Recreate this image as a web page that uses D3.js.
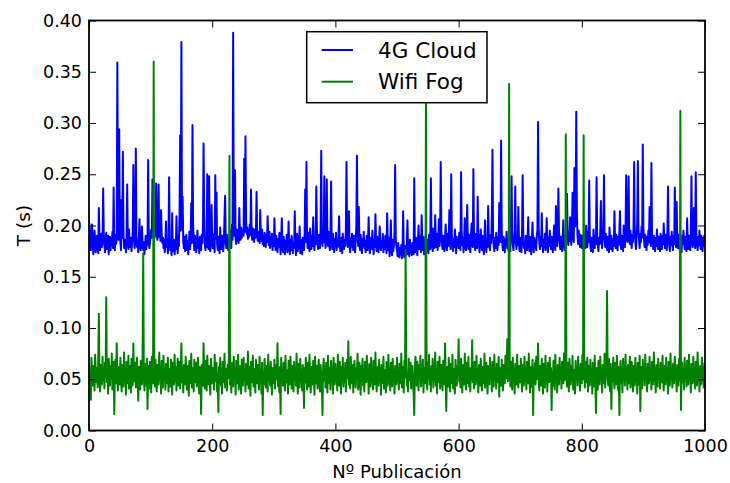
<!DOCTYPE html>
<html>
<head>
<meta charset="utf-8">
<script src="https://cdn.jsdelivr.net/npm/d3@7/dist/d3.min.js"></script>
<style>
  html, body { margin: 0; padding: 0; background: #ffffff; }
  svg { display: block; }
  text { font-family: "DejaVu Sans", sans-serif; fill: #000; }
</style>
</head>
<body>
<svg id="chart" width="730" height="483"></svg>
<script>
// Tiempo por publicación, en milisegundos (una entrada por publicación, 0..999)
const tiempo4GCloud = [
  205,198,184,176,191,201,183,172,179,195,186,174,181,190,178,173,217,188,176,183,192,179,185,236,190,
  181,174,188,193,177,185,190,172,183,189,176,187,181,194,178,237,183,176,191,182,187,359,214,186,294,
  198,183,176,225,188,272,192,178,186,181,174,190,240,185,177,196,183,179,188,175,184,193,259,186,178,
  183,275,190,179,185,174,188,206,180,176,187,199,181,176,184,172,179,190,177,185,181,264,194,178,184,
  190,196,188,245,193,199,187,195,190,241,192,186,197,240,189,194,185,215,191,183,188,178,186,174,181,
  204,179,186,173,182,247,188,176,183,171,212,180,175,186,172,181,177,209,184,173,190,180,212,288,195,
  379,196,228,184,178,189,175,183,191,176,185,172,180,194,177,186,222,183,298,201,185,176,190,181,174,
  182,195,178,186,173,189,180,176,191,183,200,280,210,182,176,188,179,250,186,177,248,184,175,190,220,
  185,178,192,181,174,249,187,232,182,176,189,180,173,198,184,177,190,181,175,186,209,229,183,178,191,
  182,176,188,180,195,184,178,201,186,388,210,190,254,188,182,196,185,191,183,217,192,186,198,188,194,
  196,190,265,194,287,205,192,198,187,195,189,201,191,235,193,186,197,189,184,196,188,192,233,190,185,
  194,187,183,215,190,185,196,182,189,180,193,186,179,191,184,209,187,181,194,178,188,183,192,176,186,
  180,207,184,176,190,181,174,187,179,193,183,172,186,207,178,174,189,180,172,185,177,191,174,182,204,
  179,172,186,176,190,181,173,184,178,214,183,171,180,192,175,184,178,199,173,186,179,172,188,181,176,
  190,235,184,262,188,178,193,181,175,197,184,177,190,180,208,183,176,188,182,238,195,181,177,191,183,
  178,196,273,187,180,192,184,248,190,178,186,245,188,180,194,183,176,189,243,184,177,192,181,174,187,
  180,193,176,185,179,190,209,182,175,188,181,173,192,184,177,186,180,195,262,189,179,185,214,180,174,
  187,179,192,183,176,190,181,174,186,200,268,188,180,218,183,176,191,182,173,187,180,194,178,185,174,
  183,190,176,185,208,180,173,188,181,177,195,184,172,186,179,211,182,175,189,180,174,187,199,181,176,
  185,179,192,174,183,177,190,181,173,212,184,176,188,170,182,205,178,171,186,175,181,194,259,188,180,
  176,170,183,174,169,178,172,181,168,176,214,173,169,180,175,171,184,205,172,178,170,186,174,179,171,
  183,176,172,246,180,174,188,178,171,185,200,177,190,181,174,210,182,176,189,172,184,178,193,175,186,
  180,173,191,184,177,246,190,181,175,197,184,178,210,186,179,192,176,185,206,180,189,262,195,182,177,
  190,181,175,188,201,183,176,192,180,186,215,182,177,250,191,183,175,187,179,196,184,173,189,180,185,
  178,193,182,176,252,194,181,188,174,185,207,180,176,190,220,183,177,191,181,174,188,202,183,179,255,
  190,181,176,192,184,178,228,189,182,174,187,196,181,176,190,183,172,188,205,180,174,186,179,219,187,
  180,176,191,183,210,274,190,181,175,188,178,193,183,176,189,181,222,190,184,283,196,182,176,189,180,
  174,187,181,194,178,185,176,190,182,175,199,248,190,181,176,186,195,238,184,177,190,181,218,183,175,
  188,180,174,192,249,188,178,184,173,190,181,176,187,208,182,175,189,179,172,186,203,181,174,188,179,
  185,176,190,196,301,198,184,177,189,180,212,183,174,186,179,192,176,185,207,181,174,188,180,195,183,
  177,189,181,174,186,200,182,176,219,187,180,191,236,194,183,177,189,181,175,187,205,183,176,190,181,
  187,231,190,181,194,185,208,188,181,196,232,190,184,256,199,203,311,215,190,182,195,186,179,191,184,
  178,190,183,176,192,185,178,200,186,179,194,184,244,190,180,175,188,181,174,196,185,178,190,182,247,
  189,180,175,188,182,194,224,185,178,190,196,249,186,179,192,183,176,189,181,174,198,184,177,190,182,
  175,187,180,214,185,178,191,183,176,189,181,195,214,184,177,190,182,175,200,186,179,192,249,196,184,
  190,248,188,182,195,186,178,191,184,198,262,192,183,177,190,203,263,194,185,178,192,184,199,188,279,
  198,186,179,191,183,176,189,181,195,184,218,188,180,261,192,184,177,190,182,175,188,180,196,184,177,
  189,181,175,192,184,177,190,182,202,185,178,191,183,176,194,238,188,180,175,189,181,194,183,176,190,
  182,237,188,179,223,185,178,191,183,176,188,180,174,190,182,195,184,177,189,181,175,207,183,177,190,
  182,176,189,248,186,179,192,217,184,178,252,190,182,176,189,181,195,184,177,190,182,175,188,180,191
];

const tiempoWifiFog = [
  66,48,57,30,71,52,44,63,58,39,74,55,47,61,42,68,114,50,38,64,56,45,72,49,59,
  41,66,53,130,47,60,36,70,55,44,63,51,75,40,58,67,16,54,69,46,85,52,39,62,57,
  45,71,50,38,64,56,43,76,49,60,35,67,54,46,73,41,58,63,37,70,52,44,85,48,59,
  66,42,55,71,47,29,62,57,40,68,51,45,74,173,53,39,65,58,44,70,21,56,63,41,67,
  50,37,72,55,46,360,58,43,69,52,38,64,57,45,76,49,61,36,68,54,42,73,50,59,40,
  65,53,46,71,38,60,55,43,69,50,35,66,58,45,74,48,62,39,57,70,44,52,67,41,59,
  85,47,60,37,64,53,45,72,50,40,63,56,34,68,51,46,75,42,58,61,38,69,54,47,66,
  43,59,71,48,36,62,55,16,64,50,44,85,57,41,68,52,39,73,56,45,63,49,35,70,58,
  46,61,53,40,74,48,57,66,38,55,18,62,50,71,44,59,36,67,53,47,75,42,60,56,39,
  64,51,70,268,45,58,37,66,54,43,72,49,61,35,68,52,46,74,40,57,63,48,36,69,55,
  44,71,50,60,38,65,53,45,77,41,58,62,34,67,51,47,73,43,56,60,37,69,52,46,64,
  55,40,72,48,59,36,66,15,57,45,70,51,42,63,54,38,74,49,60,44,67,53,35,61,56,
  46,69,41,58,64,50,85,43,55,37,62,16,71,48,57,44,66,52,39,73,47,59,54,36,68,
  50,45,72,57,41,63,53,38,67,49,60,44,75,52,36,65,56,42,70,48,58,39,64,54,22,
  61,47,71,53,40,66,56,43,74,49,37,62,58,45,68,51,35,72,55,46,63,41,59,69,48,
  38,64,53,44,15,60,70,49,57,42,66,52,37,73,55,46,61,40,68,50,59,36,71,54,45,
  65,48,58,39,74,52,44,67,56,36,62,50,71,43,59,47,66,38,55,69,51,87,45,60,41,
  72,53,46,64,37,58,68,49,42,61,55,75,40,57,66,48,35,63,52,70,44,59,38,67,54,
  47,73,50,60,36,65,55,43,71,48,58,40,68,53,45,76,51,38,62,57,44,69,49,61,35,
  64,52,46,72,41,59,55,37,67,50,44,74,47,60,39,66,54,43,70,51,58,36,63,56,45,
  71,48,59,40,65,53,46,75,42,57,62,37,68,52,176,61,44,55,38,70,49,58,66,41,54,
  63,47,36,15,60,72,50,44,67,55,39,64,52,73,43,58,48,69,37,61,54,46,325,56,40,
  66,51,74,45,59,38,63,55,70,42,57,49,76,44,61,36,67,53,47,72,41,58,64,50,39,
  68,54,45,85,48,19,62,56,43,71,52,38,65,58,46,74,41,60,53,36,69,50,44,63,57,
  89,48,59,42,70,53,37,64,57,45,75,50,40,66,55,46,72,43,61,38,58,52,88,47,56,
  41,67,53,45,73,49,60,37,64,55,44,70,51,39,62,57,46,75,42,59,66,48,36,63,54,
  45,71,52,60,38,67,55,43,74,49,58,41,65,53,47,72,33,61,56,44,69,50,39,64,57,
  46,73,51,60,89,48,57,338,62,43,67,54,40,71,49,59,36,65,55,45,74,50,42,63,56,
  47,70,52,38,64,58,44,72,49,61,40,67,54,46,75,51,37,62,57,43,69,15,59,53,66,
  45,72,50,58,85,48,39,63,55,44,70,52,36,65,57,42,73,49,60,38,66,54,47,71,51,
  61,20,57,44,68,52,40,74,48,59,37,64,55,45,71,50,62,41,67,53,46,75,49,58,289,
  55,43,66,51,38,70,56,45,63,49,73,40,59,54,36,68,52,61,44,72,48,57,39,65,53,
  46,74,50,288,60,42,67,55,47,71,38,63,54,44,69,51,59,36,66,56,43,73,48,17,61,
  52,40,68,57,45,72,49,60,37,64,54,46,75,42,58,62,136,50,44,70,55,38,65,21,59,
  48,71,53,41,66,57,45,73,50,39,62,15,58,68,47,55,37,70,52,61,44,74,49,57,40,
  64,53,46,72,42,59,67,50,38,63,56,44,71,48,60,36,66,54,45,73,19,58,62,41,69,
  51,57,44,74,48,60,38,65,55,46,72,50,59,40,67,53,45,76,49,61,37,64,56,43,70,
  52,58,41,66,55,47,73,50,39,63,57,45,71,48,60,36,67,54,44,75,51,59,42,65,56,
  46,72,53,60,38,64,55,44,70,49,312,20,58,66,47,54,40,71,52,61,43,68,56,45,74,
  50,59,37,65,54,46,72,48,61,41,67,55,44,76,51,58,38,63,56,45,71,49,60,42,66
];

const seriesNames = ["4G Cloud", "Wifi Fog"];
const seriesColors = ["#0000ff", "#008000"];
const xTicks = [0, 200, 400, 600, 800, 1000];
const yTicks = [0, 0.05, 0.10, 0.15, 0.20, 0.25, 0.30, 0.35, 0.40];
const xLabel = "Nº Publicación";
const yLabel = "T (s)";

// Plot area
const plotLeft = 89, plotRight = 705, plotTop = 20.5, plotBottom = 430.5;
const tickLen = 7;

const svg = d3.select("#chart");

const x = d3.scaleLinear().domain([0, 1000]).range([plotLeft, plotRight]);
const y = d3.scaleLinear().domain([0, 0.40]).range([plotBottom, plotTop]);

const clip = svg.append("defs").append("clipPath").attr("id", "plot-clip");
clip.append("rect").attr("x", plotLeft).attr("y", plotTop)
  .attr("width", plotRight - plotLeft).attr("height", plotBottom - plotTop);

const line = d3.line()
  .x((d, i) => x(i))
  .y(d => y(d / 1000));

const series = [tiempo4GCloud, tiempoWifiFog];
const plot = svg.append("g").attr("clip-path", "url(#plot-clip)");
series.forEach((vals, k) => {
  plot.append("path")
    .datum(vals)
    .attr("d", line)
    .attr("fill", "none")
    .attr("stroke", seriesColors[k])
    .attr("stroke-width", 2)
    .attr("stroke-linejoin", "round");
});

// Axes with inward ticks on all four sides
const fmtY = d3.format(".2f");
const axisFont = "17.5px";

const gx = svg.append("g").attr("transform", `translate(0,${plotBottom})`)
  .call(d3.axisBottom(x).tickValues(xTicks).tickFormat(d3.format("d"))
    .tickSizeInner(-tickLen).tickSizeOuter(0).tickPadding(9.5));
const gy = svg.append("g").attr("transform", `translate(${plotLeft},0)`)
  .call(d3.axisLeft(y).tickValues(yTicks).tickFormat(fmtY)
    .tickSizeInner(-tickLen).tickSizeOuter(0).tickPadding(7));
const gt = svg.append("g").attr("transform", `translate(0,${plotTop})`)
  .call(d3.axisTop(x).tickValues(xTicks).tickFormat("")
    .tickSizeInner(-tickLen).tickSizeOuter(0));
const gr = svg.append("g").attr("transform", `translate(${plotRight},0)`)
  .call(d3.axisRight(y).tickValues(yTicks).tickFormat("")
    .tickSizeInner(-tickLen).tickSizeOuter(0));

[gx, gy, gt, gr].forEach(g => {
  g.select(".domain").remove();
  g.selectAll(".tick line").attr("stroke", "#000").attr("stroke-width", 1);
  g.selectAll(".tick text")
    .style("font-family", "'DejaVu Sans', sans-serif")
    .style("font-size", axisFont)
    .attr("fill", "#000");
});

// Frame
svg.append("rect")
  .attr("x", plotLeft).attr("y", plotTop)
  .attr("width", plotRight - plotLeft).attr("height", plotBottom - plotTop)
  .attr("fill", "none").attr("stroke", "#000").attr("stroke-width", 1.8);

// Axis titles
svg.append("text")
  .attr("x", (plotLeft + plotRight) / 2).attr("y", 478)
  .attr("text-anchor", "middle")
  .style("font-size", "18px")
  .text(xLabel);

svg.append("text")
  .attr("transform", `translate(29.5,${(plotTop + plotBottom) / 2}) rotate(-90)`)
  .attr("text-anchor", "middle")
  .style("font-size", "18.5px")
  .text(yLabel);

// Legend
const legend = svg.append("g");
legend.append("rect")
  .attr("x", 306.7).attr("y", 31.7)
  .attr("width", 180.3).attr("height", 71)
  .attr("fill", "#fff").attr("stroke", "#000").attr("stroke-width", 1.5);
seriesNames.forEach((name, k) => {
  const ly = 50 + k * 31.7;
  legend.append("line")
    .attr("x1", 321.7).attr("x2", 353)
    .attr("y1", ly).attr("y2", ly)
    .attr("stroke", seriesColors[k]).attr("stroke-width", 2);
  legend.append("text")
    .attr("x", 378).attr("y", ly + 7.5)
    .style("font-size", "21.5px")
    .text(name);
});
</script>
</body>
</html>
